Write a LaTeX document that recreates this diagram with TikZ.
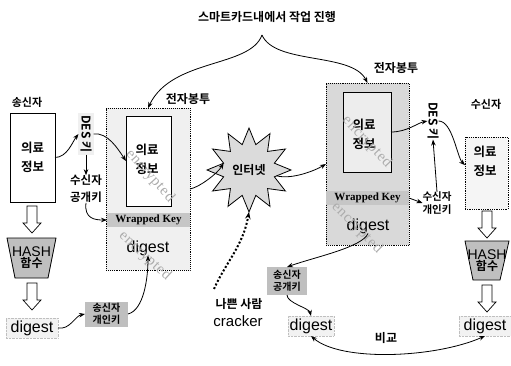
\documentclass[tikz,border=0pt]{standalone}
\usepackage{fontspec}
\newfontfamily\kr{Noto Sans CJK KR}[BoldFont={Noto Sans CJK KR Bold}]
\newfontfamily\ars{Liberation Sans}
\newfontfamily\tms{Liberation Serif}
\usetikzlibrary{shapes.geometric,arrows.meta}
\begin{document}
\begin{tikzpicture}[x=1pt,y=-1pt,
  every node/.style={inner sep=0pt, outer sep=0pt},
  arr/.style={-{Stealth[length=6pt,width=4.5pt]}, line width=0.8pt},
  arrboth/.style={{Stealth[length=6pt,width=4.5pt]}-{Stealth[length=6pt,width=4.5pt]}, line width=0.8pt},
  dotarr/.style={-{Stealth[length=7pt,width=5.5pt]}, line width=2pt, dotted},
  kten/.style={font=\kr\bfseries\fontsize{11}{13}\selectfont, align=center},
  keleven/.style={font=\kr\bfseries\fontsize{12}{14}\selectfont, align=center},
  ktwelve/.style={font=\kr\bfseries\fontsize{12}{14}\selectfont, align=center},
  medtext/.style={font=\kr\bfseries\fontsize{12.5}{19}\selectfont, align=center},
  digfont/.style={font=\ars\fontsize{16}{18}\selectfont},
  digbox/.style={digfont, fill=gray!10, draw=gray!50, densely dotted, minimum width=52, minimum height=20},
  darkbox/.style={fill=gray!50, font=\kr\bfseries\fontsize{10}{11.5}\selectfont, align=center},
  envbox/.style={draw, densely dotted, line width=0.9pt},
  innerbox/.style={draw, line width=0.8pt},
  band/.style={fill=gray!45, font=\tms\bfseries\fontsize{11}{12}\selectfont},
  enc/.style={text=gray!65, font=\tms\fontsize{15}{15}\selectfont\addfontfeature{LetterSpace=5}},
  hashfill/.style={draw, line width=0.8pt, fill=gray!50},
  hdown/.pic={\draw[fill=white, line width=0.7pt] (-5,0) -- (5,0) -- (5,17) -- (9,17) -- (0,27) -- (-9,17) -- (-5,17) -- cycle;}
]
\fill[white] (0,0) rectangle (511,366);
\path[use as bounding box] (0,0) rectangle (511,366);

% title and brace
\node[ktwelve] (title) at (267,17) {스마트카드내에서 작업 진행};
\coordinate (peak) at (262,35);

% ---------- sender side ----------
\node[kten] (sndr) at (27,102) {송신자};
\node[draw, line width=0.8pt, minimum width=45, minimum height=89, medtext] (medL) at (32.5,157.5) {의료\\정보};
\pic at (32,206) {hdown};
\draw[hashfill] (7,238) -- (56,238) -- (48,278) -- (15,278) -- cycle;
\node[align=center] (hashL) at (31.5,258) {{\ars\fontsize{14}{16}\selectfont HASH}\\[-1pt]{\kr\bfseries\fontsize{12}{14}\selectfont 함수}};
\pic at (32,283) {hdown};
\node[digbox] (digL) at (32,328) {digest};
\node[darkbox, minimum width=43, minimum height=25] (prvL) at (106.5,314) {송신자\\개인키};

\node[keleven, rotate=-90, fill=gray!12, inner sep=2pt] (desL) at (86,134) {DES 키};
\node[font=\kr\bfseries\fontsize{11.5}{17}\selectfont, align=center] (pubL) at (86,189) {수신자\\공개키};

% left envelope
\node[envbox, fill=gray!12, minimum width=84, minimum height=162] (envL) at (148,189) {};
\node[innerbox, fill=white, minimum width=45, minimum height=90] (innL) at (148.5,161) {};
\node[medtext] (txtL) at (147,159) {의료\\정보};
\node[band, minimum width=83, minimum height=14] (bandL) at (148.5,220) {Wrapped Key};
\node[digfont] (digEL) at (148,248) {digest};
\node[enc, rotate=-48] (encL1) at (150,176) {encrypted};
\node[enc, rotate=-43] (encL2) at (145,256) {encrypted};
\node[keleven] (envLlab) at (188,99) {전자봉투};

% internet
\node[star, star points=12, star point ratio=1.6, minimum size=84, draw, line width=0.8pt, fill=gray!28, keleven] (net) at (249,170) {인터넷};
\node[ktwelve] (bad) at (239,304) {나쁜 사람};
\node[font=\ars\fontsize{15}{17}\selectfont] (crk) at (238,321) {cracker};
\coordinate (badtop) at (214,289);

% right envelope
\node[envbox, fill=gray!30, minimum width=83, minimum height=162] (envR) at (367.5,164) {};
\node[innerbox, fill=gray!14, minimum width=48, minimum height=80] (innR) at (367,132) {};
\node[medtext] (txtR) at (364,134) {의료\\정보};
\node[band, minimum width=83, minimum height=14] (bandR) at (367.5,198) {Wrapped Key};
\node[digfont] (digER) at (368,226) {digest};
\node[enc, rotate=-47] (encR1) at (367,142) {encrypted};
\node[enc, rotate=-45] (encR2) at (357,228) {encrypted};
\node[keleven] (envRlab) at (396,68) {전자봉투};

% receiver side
\node[keleven, rotate=-90] (desR) at (433,121) {DES 키};
\node[font=\kr\bfseries\fontsize{10.5}{12.5}\selectfont, align=center] (prvR) at (437,203) {수신자\\개인키};
\node[kten] (rcv) at (486,104) {수신자};
\node[draw, densely dotted, line width=0.8pt, fill=gray!8, minimum width=43, minimum height=72] (rcvBox) at (486.5,173) {};
\node[medtext] (txtRc) at (485,161) {의료\\정보};
\pic at (487,211) {hdown};
\draw[hashfill] (465,241) -- (509,241) -- (500,280) -- (473,280) -- cycle;
\node[align=center] (hashR) at (487,261) {{\ars\fontsize{14}{16}\selectfont HASH}\\[-1pt]{\kr\bfseries\fontsize{12}{14}\selectfont 함수}};
\pic at (487,285) {hdown};
\node[digbox] (digR) at (485,326) {digest};

\node[darkbox, minimum width=40, minimum height=28] (pubR) at (287,281) {송신자\\공개키};
\node[digbox, minimum width=46] (digM) at (311,326) {digest};
\node[keleven] (cmp) at (386,338) {비교};

% ---------- connectors ----------
\draw[arr] (peak) .. controls (250,68) and (172,58) .. (envL.north);
\draw[arr] (peak) .. controls (275,65) and (352,52) .. (envR.north);

\draw[arr] (medL.east) .. controls +(12,0) and +(-6,8) .. (desL.south);
\draw[arr] (desL.north) .. controls +(14,-2) and +(-8,-12) .. (innL.west);
\draw[arr] (desL.east) -- (pubL.north);
\draw[arr] (pubL.south) .. controls +(-2,16) and +(-12,0) .. (bandL.west);

\draw[arr] (envL.east) .. controls +(10,-2) and +(-6,10) .. (net.165);
\draw[arr] (net.-12) .. controls +(16,4) and +(-10,6) .. (envR.west);
\draw[dotarr] (badtop) .. controls (226,262) and (243,246) .. (net.south);

\draw[arr] (digL.east) .. controls +(12,2) and +(-10,2) .. (prvL.west);
\draw[arr] (prvL.east) .. controls +(16,-4) and +(0,22) .. (digEL.south);

\draw[arr] (innR.east) .. controls +(16,0) and +(-10,2) .. (desR.south);
\draw[arr] (desR.north) .. controls +(14,0) and +(-8,-8) .. (rcvBox.160);
\draw[arr] (prvR.north) -- (desR.east);
\draw[arr] (bandR.east) -- (prvR.west);

\draw[arr] (digER.south) .. controls +(-6,14) and +(28,-10) .. (pubR.north);
\draw[arr] (pubR.south) .. controls +(0,8) and +(-2,-8) .. (digM.north);
\draw[arrboth] (digM.south) .. controls +(30,26) and +(-50,22) .. (digR.south);
\end{tikzpicture}
\end{document}
